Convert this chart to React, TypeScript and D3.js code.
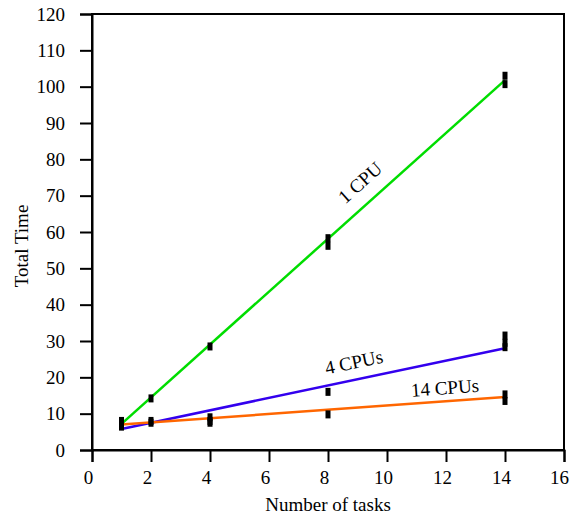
import * as d3 from "d3";
import { useRef, useEffect } from "react";

// chart size and margins
const width = 570;
const height = 517;
const marginTop = 14;
const marginRight = 6;
const marginBottom = 67;
const marginLeft = 92;

// measured runs (x = tasks, y = total time)
const oneCpuX = [1, 1, 2, 4, 8, 8, 14, 14];
const oneCpuY = [8, 6.5, 14.2, 28.5, 58.3, 56.2, 103, 100.7];
const fourCpuX = [1, 2, 4, 4, 8, 14, 14, 14];
const fourCpuY = [6.5, 8, 9, 7.5, 16, 31.5, 29.5, 28.3];
const fourteenCpuX = [1, 2, 4, 8, 14, 14];
const fourteenCpuY = [7, 7.5, 8, 9.8, 15.3, 13.5];

// fitted lines, end points
const fitX = [1, 14];
const oneCpuFit = [7.2, 101.8];
const fourCpuFit = [5.8, 28];
const fourteenCpuFit = [7.0, 14.6];

const lineColors = ["#00dd00", "#3300ee", "#ff6600"];
const lineLabels = ["1 CPU", "4 CPUs", "14 CPUs"];
// where the label sits along each line (x value)
const labelAt = [9.55, 9.0, 12.0];
const labelLift = [14, 11, 7];

const xTicks = d3.range(0, 17, 2);
const yTicks = d3.range(0, 121, 10);

const App = () => {
	const chartRef = useRef(null);

	useEffect(() => {
		if (!chartRef.current) return;
		const svg = d3.select(chartRef.current);
		svg.selectAll("*").remove();

		const x = d3.scaleLinear().domain([0, 16]).range([marginLeft, width - marginRight]);
		const y = d3.scaleLinear().domain([0, 120]).range([height - marginBottom, marginTop]);

		const font = "Liberation Serif";
		const fs = 19;

		// box around plot
		svg.append("rect")
			.attr("x", x(0))
			.attr("y", y(120))
			.attr("width", x(16) - x(0))
			.attr("height", y(0) - y(120))
			.attr("fill", "none")
			.attr("stroke", "#000")
			.attr("stroke-width", 2);

		// x axis
		const xAxis = svg.append("g")
			.attr("transform", `translate(0,${y(0)})`)
			.call(d3.axisBottom(x).tickValues(xTicks).tickSize(12).tickPadding(9).tickFormat(d3.format("d")));
		xAxis.attr("font-family", font);
		xAxis.select(".domain").attr("stroke-width", 2);
		xAxis.selectAll(".tick line").attr("stroke-width", 2);
		xAxis.selectAll("text")
			.attr("font-family", font).attr("font-size", fs).attr("fill", "#000")
			.attr("dx", (d) => (d === 16 ? -5 : -4));

		// y axis
		const yAxis = svg.append("g")
			.attr("transform", `translate(${x(0)},0)`)
			.call(d3.axisLeft(y).tickValues(yTicks).tickSize(12).tickPadding(15).tickFormat(d3.format("d")));
		yAxis.attr("font-family", font);
		yAxis.select(".domain").attr("stroke-width", 2);
		yAxis.selectAll(".tick line").attr("stroke-width", 2);
		yAxis.selectAll("text").attr("font-family", font).attr("font-size", fs).attr("fill", "#000");

		// axis titles
		svg.append("text")
			.attr("x", (x(0) + x(16)) / 2)
			.attr("y", height - 6)
			.attr("text-anchor", "middle")
			.attr("font-family", font)
			.attr("font-size", fs)
			.text("Number of tasks");

		svg.append("text")
			.attr("transform", `translate(28,246) rotate(-90)`)
			.attr("text-anchor", "middle")
			.attr("font-family", font)
			.attr("font-size", fs)
			.text("Total Time");

		// fitted lines
		const fits = [oneCpuFit, fourCpuFit, fourteenCpuFit];
		const line = d3.line().x((d) => x(d[0])).y((d) => y(d[1]));
		fits.forEach((f, i) => {
			svg.append("path")
				.datum(fitX.map((v, j) => [v, f[j]]))
				.attr("d", line)
				.attr("fill", "none")
				.attr("stroke", lineColors[i])
				.attr("stroke-width", 2.5);
		});

		// data markers
		const series = [
			[oneCpuX, oneCpuY],
			[fourCpuX, fourCpuY],
			[fourteenCpuX, fourteenCpuY],
		];
		series.forEach(([xs, ys]) => {
			svg.append("g")
				.selectAll("rect")
				.data(xs.map((v, j) => [v, ys[j]]))
				.enter().append("rect")
					.attr("x", (d) => x(d[0]) - 2.5)
					.attr("y", (d) => y(d[1]) - 4)
					.attr("width", 5)
					.attr("height", 8)
					.attr("fill", "#000");
		});

		// labels along the lines
		fits.forEach((f, i) => {
			const slope = (f[1] - f[0]) / (fitX[1] - fitX[0]);
			const lx = labelAt[i];
			const ly = f[0] + slope * (lx - fitX[0]);
			const angle = -Math.atan2(y(ly) - y(ly + slope), x(lx + 1) - x(lx)) * 180 / Math.PI;
			svg.append("text")
				.attr("transform", `translate(${x(lx)},${y(ly)}) rotate(${angle}) translate(0,${-labelLift[i]})`)
				.attr("text-anchor", "middle")
				.attr("font-family", font)
				.attr("font-size", fs)
				.text(lineLabels[i]);
		});
	}, []);

	return (
		<svg
			ref={chartRef}
			width={width}
			height={height}
			style={{ position: "absolute", left: 0, top: 0, display: "block" }}
		/>
	);
};

export default App;
